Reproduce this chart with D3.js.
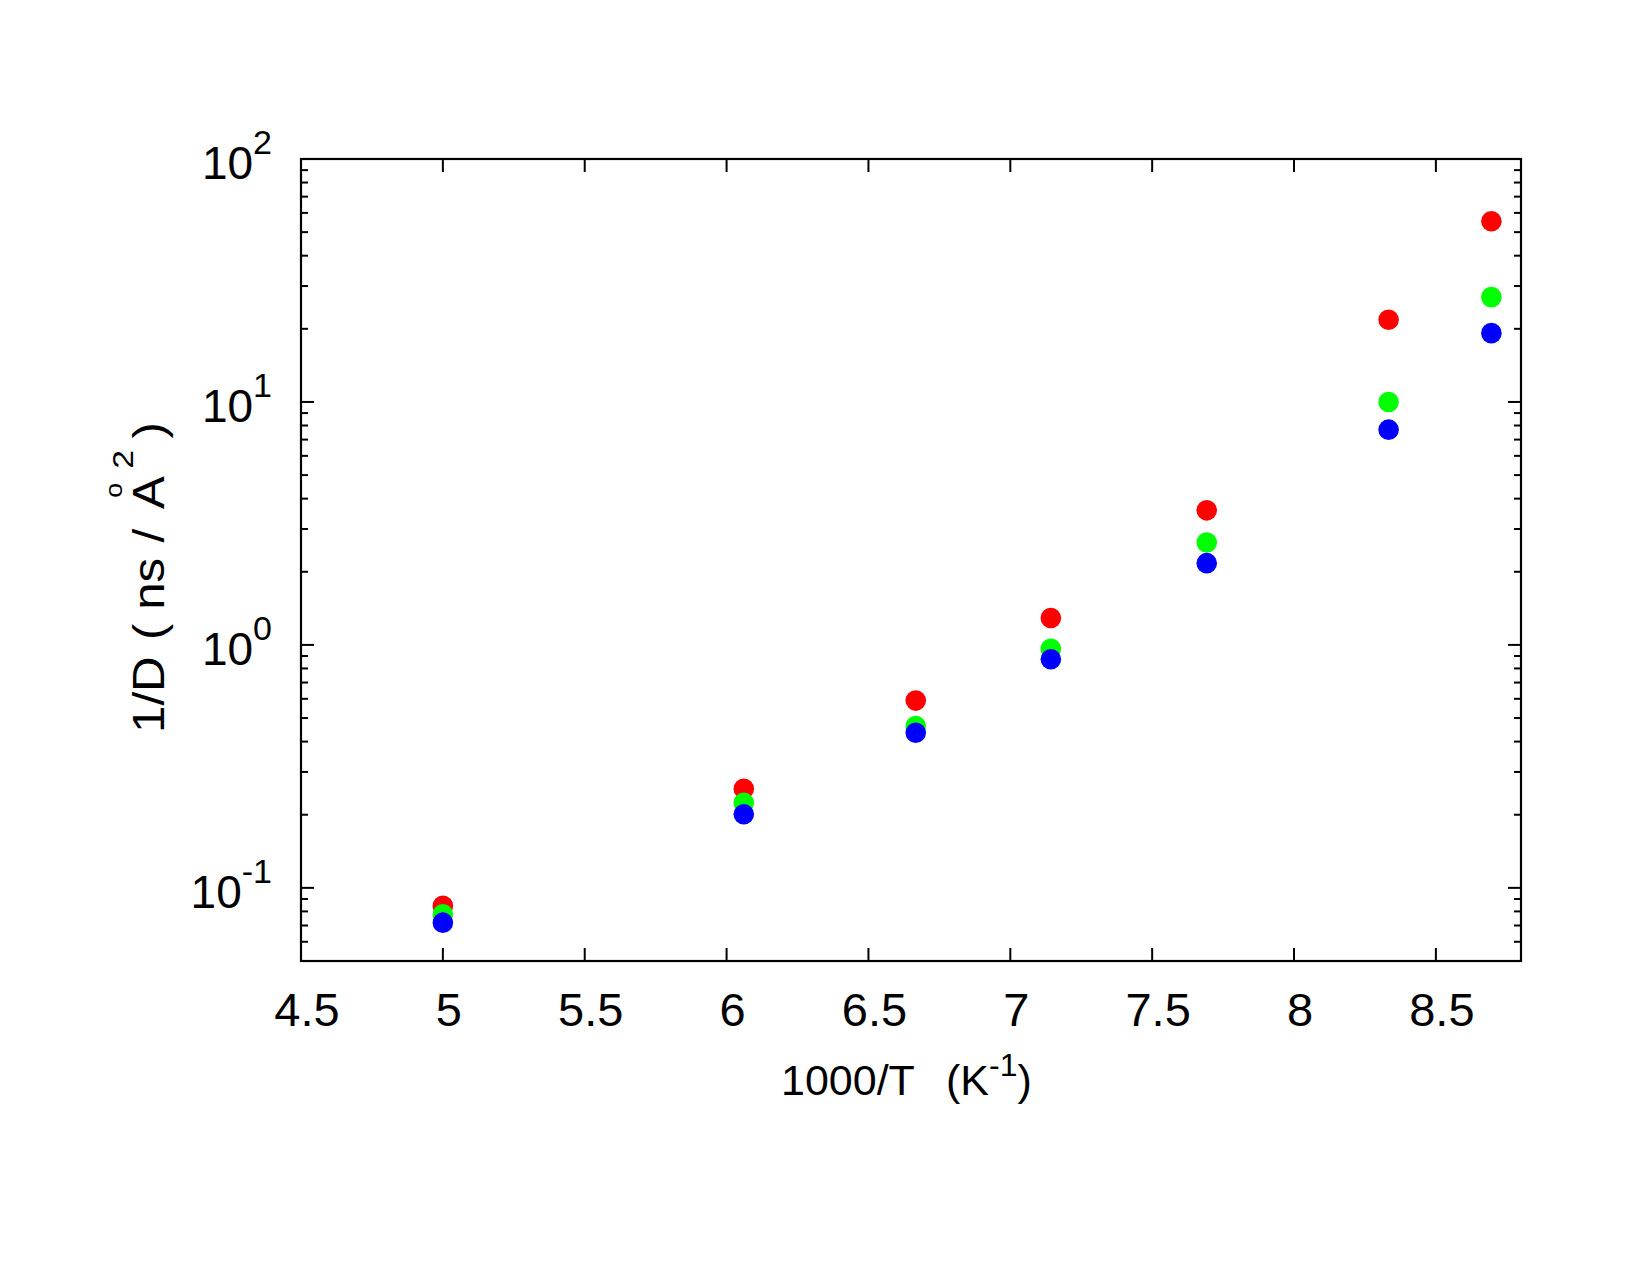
<!DOCTYPE html>
<html>
<head>
<meta charset="utf-8">
<script src="https://cdn.jsdelivr.net/npm/d3@7"></script>
<style>
  body { margin: 0; background: #fff; }
  svg text { font-family: "Liberation Sans", Arial, Helvetica, sans-serif; fill: #000; }
</style>
</head>
<body>
<div id="chart"></div>
<script>
// temperatures (K) -> x = 1000/T
const temps = [200, 165, 150, 140, 130, 120, 115];
const redVals = [0.0843, 0.256, 0.590, 1.29, 3.58, 21.8, 55.4];
const greenVals = [0.0778, 0.224, 0.463, 0.964, 2.64, 10.0, 27.0];
const blueVals = [0.0719, 0.201, 0.435, 0.873, 2.17, 7.69, 19.2];
const xTicks = [4.5, 5, 5.5, 6, 6.5, 7, 7.5, 8, 8.5];
const yMajor = [0.1, 1, 10, 100];
const yExps = ['-1', '0', '1', '2'];

const W = 1650, H = 1275;
const margin = { top: 159, right: 129, bottom: 314, left: 301 };
const width = W - margin.left - margin.right;
const height = H - margin.top - margin.bottom;

const x = d3.scaleLinear().domain([4.5, 8.8]).range([0, width]);
const y = d3.scaleLog().domain([0.05, 100]).range([height, 0]);

const svg = d3.select('#chart').append('svg')
  .attr('width', W)
  .attr('height', H)
  .append('g')
    .attr('transform', `translate(${margin.left},${margin.top})`);

const xs = temps.map(t => 1000 / t);
const series = [
  { vals: redVals, color: '#ff0000' },
  { vals: greenVals, color: '#00ff00' },
  { vals: blueVals, color: '#0000ff' }
];

// points (red, then green, then blue on top)
series.forEach(s => {
  svg.append('g').selectAll('circle')
    .data(s.vals.map((v, i) => ({ x: xs[i], y: v })))
    .enter()
    .append('circle')
    .attr('cx', d => x(d.x))
    .attr('cy', d => y(d.y))
    .attr('r', 10.3)
    .attr('fill', s.color);
});

const minorTicks = y.ticks().filter(v => !yMajor.some(m => Math.abs(m - v) < 1e-9) && v > 0.05);

// tick marks on all four sides, pointing inward
const tickG = svg.append('g').attr('stroke', '#000').attr('stroke-width', 2);
const major = 13, minor = 7;
xTicks.forEach(t => {
  tickG.append('line').attr('x1', x(t)).attr('x2', x(t)).attr('y1', height).attr('y2', height - major);
  tickG.append('line').attr('x1', x(t)).attr('x2', x(t)).attr('y1', 0).attr('y2', major);
});
yMajor.forEach(t => {
  tickG.append('line').attr('x1', 0).attr('x2', major).attr('y1', y(t)).attr('y2', y(t));
  tickG.append('line').attr('x1', width).attr('x2', width - major).attr('y1', y(t)).attr('y2', y(t));
});
minorTicks.forEach(t => {
  tickG.append('line').attr('x1', 0).attr('x2', minor).attr('y1', y(t)).attr('y2', y(t));
  tickG.append('line').attr('x1', width).attr('x2', width - minor).attr('y1', y(t)).attr('y2', y(t));
});

// frame
svg.append('rect')
  .attr('x', 0).attr('y', 0)
  .attr('width', width).attr('height', height)
  .attr('fill', 'none')
  .attr('stroke', '#000')
  .attr('stroke-width', 2.2);

// x tick labels
svg.append('g').selectAll('text')
  .data(xTicks)
  .enter()
  .append('text')
  .attr('x', d => x(d) + 6)
  .attr('y', height + 65)
  .attr('text-anchor', 'middle')
  .style('font-size', '47px')
  .text(d => d);

// y tick labels 10^n
yMajor.forEach((v, i) => {
  const t = svg.append('text')
    .attr('x', -29)
    .attr('y', y(v) + 20)
    .attr('text-anchor', 'end')
    .style('font-size', '46px');
  t.append('tspan').text('10');
  t.append('tspan').attr('dy', -25).style('font-size', '34px').text(yExps[i]);
});

// x axis title
const xt = svg.append('text')
  .attr('y', 1095 - margin.top)
  .style('font-size', '43px');
xt.append('tspan').attr('x', 480).text('1000/T');
xt.append('tspan').attr('x', 645).text('(K');
xt.append('tspan').attr('dy', -19).style('font-size', '32px').text('-1');
xt.append('tspan').attr('dy', 19).text(')');

// y axis title (rotated and stretched along the text; tspan x = distance along it)
const yt = svg.append('text')
  .attr('transform', `translate(${164 - margin.left},${733 - margin.top}) rotate(-90) scale(1.12,1)`)
  .style('font-size', '44px');
yt.append('tspan').attr('x', 0).text('1/D');
yt.append('tspan').attr('x', 83).text('(');
yt.append('tspan').attr('x', 110).text('ns');
yt.append('tspan').attr('x', 170).text('/');
yt.append('tspan').attr('x', 200).text('A');
yt.append('tspan').attr('x', 210).attr('dy', -42).style('font-size', '24px').text('o');
yt.append('tspan').attr('x', 236).attr('dy', 11).style('font-size', '30px').text('2');
yt.append('tspan').attr('x', 263).attr('dy', 31).text(')');
</script>
</body>
</html>
